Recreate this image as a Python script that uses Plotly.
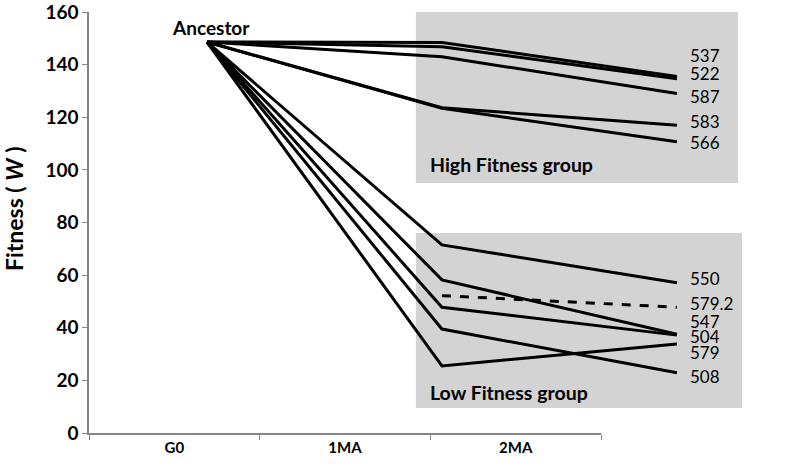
import plotly.graph_objects as go

# ---- data ----
categories = ["G0", "1MA", "2MA"]
line_names = ["537", "522", "587", "583", "566", "550", "547", "504", "508", "579"]
ancestor_w = 148.6
w_1ma = [148.4, 146.8, 143.0, 123.6, 123.4, 71.5, 58.2, 47.8, 39.5, 25.5]
w_2ma = [135.5, 134.6, 129.0, 117.0, 110.7, 57.1, 37.5, 37.2, 22.9, 33.8]
dashed_name = "579.2"
dashed_1ma = 52.2
dashed_2ma = 47.8
label_y = [143.3, 136.5, 128.0, 118.3, 110.3, 58.8, 42.3, 36.6, 21.4, 30.5]
dashed_label_y = 49.3
y_ticks = [0, 20, 40, 60, 80, 100, 120, 140, 160]

FONT = "Lato, 'Open Sans', sans-serif"
AX = "#868686"

fig = go.Figure()

# invisible trace on the category axis so it renders
fig.add_trace(go.Scatter(x=categories, y=[None, None, None], mode="lines",
                         showlegend=False, hoverinfo="skip", xaxis="x", yaxis="y"))

for name, a, b in zip(line_names, w_1ma, w_2ma):
    fig.add_trace(go.Scatter(x=[0, 1, 2], y=[ancestor_w, a, b], mode="lines",
                             line=dict(color="black", width=3),
                             name=name, showlegend=False, xaxis="x2", yaxis="y"))

fig.add_trace(go.Scatter(x=[1, 2], y=[dashed_1ma, dashed_2ma], mode="lines",
                         line=dict(color="black", width=3, dash="dash"),
                         name=dashed_name, showlegend=False, xaxis="x2", yaxis="y"))

# group boxes
fig.add_shape(type="rect", xref="x2", yref="y", x0=0.889, x1=2.26, y0=95, y1=163.8,
              fillcolor="#d3d3d3", line=dict(width=0), layer="below")
fig.add_shape(type="rect", xref="x2", yref="y", x0=0.889, x1=2.277, y0=9.5, y1=76,
              fillcolor="#d3d3d3", line=dict(width=0), layer="below")

# end labels
for name, ly in zip(line_names, label_y):
    fig.add_annotation(x=2.045, y=ly, xref="x2", yref="y", text=name, showarrow=False,
                       xanchor="left", yanchor="middle",
                       font=dict(family=FONT, size=17, color="black"))
fig.add_annotation(x=2.045, y=dashed_label_y, xref="x2", yref="y", text=dashed_name,
                   showarrow=False, xanchor="left", yanchor="middle",
                   font=dict(family=FONT, size=17, color="black"))

fig.add_annotation(x=0.017, y=154.3, xref="x2", yref="y", text="<b>Ancestor</b>",
                   showarrow=False, xanchor="center", yanchor="middle",
                   font=dict(family=FONT, size=19, color="black"))
fig.add_annotation(x=0.94, y=101.9, xref="x2", yref="y", text="<b>High Fitness group</b>",
                   showarrow=False, xanchor="left", yanchor="middle",
                   font=dict(family=FONT, size=19.5, color="black"))
fig.add_annotation(x=0.94, y=15.3, xref="x2", yref="y", text="<b>Low Fitness group</b>",
                   showarrow=False, xanchor="left", yanchor="middle",
                   font=dict(family=FONT, size=19.5, color="black"))

# y-axis title
fig.add_annotation(x=0, xref="paper", xshift=-75, y=85.1, yref="y",
                   text="<b>Fitness ( <i>W</i> )</b>", textangle=-90, showarrow=False,
                   xanchor="center", yanchor="middle",
                   font=dict(family=FONT, size=23, color="black"))

fig.update_layout(
    width=797, height=471,
    margin=dict(l=89, r=0, t=12, b=38),
    plot_bgcolor="rgba(0,0,0,0)", paper_bgcolor="white",
    showlegend=False,
    font=dict(family=FONT, color="black"),
    xaxis=dict(domain=[0, 512 / 708], anchor="y", type="category",
               categoryarray=categories, range=[-0.5, 2.5], automargin=False,
               showline=True, linecolor=AX, linewidth=1.5,
               ticks="outside", tickson="boundaries", ticklen=5, tickcolor=AX,
               showgrid=False, zeroline=False,
               tickfont=dict(family=FONT, size=15, color="black", weight="bold")),
    xaxis2=dict(domain=[0, 1], anchor="y", range=[-0.502, 2.511],
                visible=False, showgrid=False, zeroline=False, automargin=False),
    yaxis=dict(range=[0, 160], tickvals=y_ticks, anchor="x", automargin=False,
               showline=True, linecolor=AX, ticklabeloverflow="allow",
               linewidth=1.5, ticks="outside", ticklen=5, tickcolor=AX,
               showgrid=False, zeroline=False,
               tickfont=dict(family=FONT, size=19, color="black", weight="bold")),
)

fig.write_html("out.html", config={"displayModeBar": False},
               post_script="document.body.style.margin='0';document.body.style.overflow='hidden';")
